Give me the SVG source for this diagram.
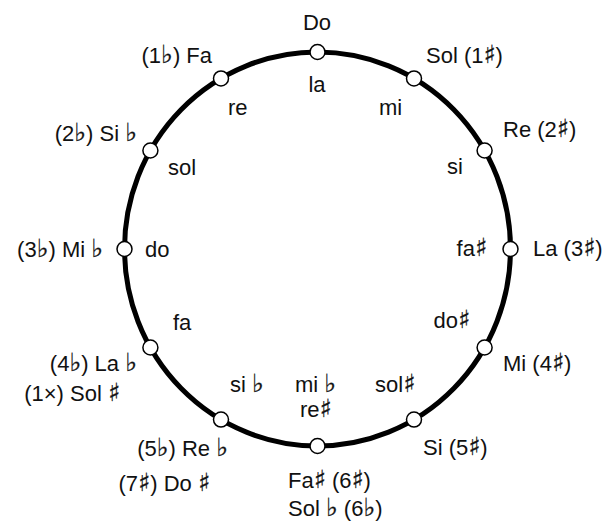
<svg xmlns="http://www.w3.org/2000/svg" width="616" height="522" viewBox="0 0 616 522">
<style>
text{font-family:"Liberation Sans",Arial,sans-serif;font-size:22px;fill:#111}
.s{font-family:"DejaVu Sans",sans-serif;font-size:25px;stroke:#111;stroke-width:0.3}
.ring{fill:none;stroke:#000;stroke-width:5}
.node{fill:#fff;stroke:#000;stroke-width:1.5}
.m{text-anchor:middle}
.e{text-anchor:end}
</style>
<rect width="616" height="522" fill="#fff"/>
<g id="connectors">
<ellipse class="ring" cx="317.5" cy="249" rx="193" ry="197"/>
</g>
<g id="n0"><circle class="node" cx="317.5" cy="52" r="7.5"/><text class="m" x="317" y="30">Do</text><text class="m" x="317" y="92">la</text></g>
<g id="n1"><circle class="node" cx="414" cy="78.4" r="7.5"/><text x="426" y="63">Sol (1<tspan class="s">♯</tspan>)</text><text x="379" y="115">mi</text></g>
<g id="n2"><circle class="node" cx="484.6" cy="150.5" r="7.5"/><text x="503" y="137">Re (2<tspan class="s">♯</tspan>)</text><text x="447" y="174">si</text></g>
<g id="n3"><circle class="node" cx="510.5" cy="249" r="7.5"/><text x="533" y="256">La (3<tspan class="s">♯</tspan>)</text><text class="e" x="487" y="256">fa<tspan class="s">♯</tspan></text></g>
<g id="n4"><circle class="node" cx="484.6" cy="347.5" r="7.5"/><text x="503" y="371">Mi (4<tspan class="s">♯</tspan>)</text><text class="e" x="470" y="328">do<tspan class="s">♯</tspan></text></g>
<g id="n5"><circle class="node" cx="414" cy="419.6" r="7.5"/><text x="423" y="455">Si (5<tspan class="s">♯</tspan>)</text><text x="375" y="392">sol<tspan class="s">♯</tspan></text></g>
<g id="n6"><circle class="node" cx="317.5" cy="446" r="7.5"/><text x="288" y="488">Fa<tspan class="s">♯</tspan> (6<tspan class="s">♯</tspan>)</text><text x="288" y="516">Sol <tspan class="s">♭</tspan> (6<tspan class="s">♭</tspan>)</text><text x="295" y="392">mi <tspan class="s">♭</tspan></text><text x="300" y="417">re<tspan class="s">♯</tspan></text></g>
<g id="n7"><circle class="node" cx="221" cy="419.6" r="7.5"/><text class="e" x="228" y="456">(5<tspan class="s">♭</tspan>) Re <tspan class="s">♭</tspan></text><text class="e" x="210" y="491">(7<tspan class="s">♯</tspan>) Do <tspan class="s">♯</tspan></text><text x="230" y="392">si <tspan class="s">♭</tspan></text></g>
<g id="n8"><circle class="node" cx="150.4" cy="347.5" r="7.5"/><text class="e" x="137" y="371">(4<tspan class="s">♭</tspan>) La <tspan class="s">♭</tspan></text><text class="e" x="120" y="401">(1×) Sol <tspan class="s">♯</tspan></text><text x="173" y="330">fa</text></g>
<g id="n9"><circle class="node" cx="124.5" cy="249" r="7.5"/><text class="e" x="103" y="257">(3<tspan class="s">♭</tspan>) Mi <tspan class="s">♭</tspan></text><text x="145" y="257">do</text></g>
<g id="n10"><circle class="node" cx="150.4" cy="150.5" r="7.5"/><text class="e" x="137" y="141">(2<tspan class="s">♭</tspan>) Si <tspan class="s">♭</tspan></text><text x="168" y="175">sol</text></g>
<g id="n11"><circle class="node" cx="221" cy="78.4" r="7.5"/><text class="e" x="212" y="63">(1<tspan class="s">♭</tspan>) Fa</text><text x="228" y="115">re</text></g>
</svg>
